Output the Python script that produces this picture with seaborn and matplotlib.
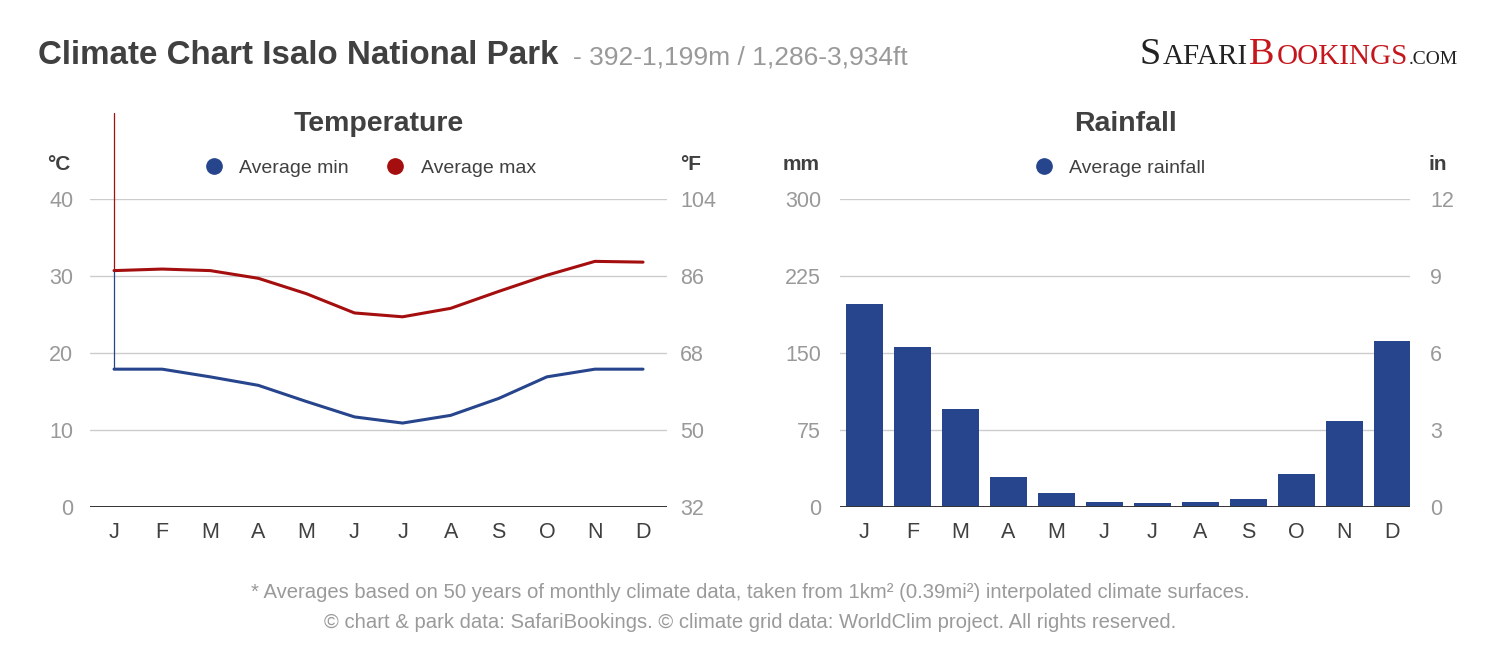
import pandas as pd
import seaborn as sns
import matplotlib.pyplot as plt
import matplotlib.transforms as mtransforms
from matplotlib.lines import Line2D

# Valores
months = ['J', 'F', 'M', 'A', 'M', 'J', 'J', 'A', 'S', 'O', 'N', 'D']
temp_min = [17.9, 17.9, 16.9, 15.8, 13.7, 11.7, 10.9, 11.9, 14.1, 16.9, 17.9, 17.9]
temp_max = [30.7, 30.9, 30.7, 29.7, 27.7, 25.2, 24.7, 25.8, 28.0, 30.1, 31.9, 31.8]
rain_mm = [198, 156, 95, 29, 14, 5, 4, 5, 8, 32, 84, 162]
c_ticks = [0, 10, 20, 30, 40]
f_ticks = [32, 50, 68, 86, 104]
mm_ticks = [0, 75, 150, 225, 300]
in_ticks = [0, 3, 6, 9, 12]

blue = '#27458c'
red = '#a50e0e'
dark = '#404040'
grey = '#999999'

sns.set_theme(style='white')
plt.rcParams['font.family'] = ['Liberation Sans', 'DejaVu Sans']

fig = plt.figure(figsize=(15, 6.52), dpi=100)
ax1 = fig.add_axes([0.06, 0.2224, 0.3847, 0.4724])
ax2 = fig.add_axes([0.5603, 0.2224, 0.38, 0.4724])

# Temperatura
df_t = pd.DataFrame({
    'mes': list(range(12)) * 2,
    'temp': temp_min + temp_max,
    'serie': ['Average min'] * 12 + ['Average max'] * 12,
})
sns.lineplot(data=df_t, x='mes', y='temp', hue='serie',
             palette={'Average min': blue, 'Average max': red},
             lw=2.2, ax=ax1, legend=False)

# linea vertical rara del original
ax1.plot([0, 0], [temp_min[0], temp_max[0]], color=blue, lw=0.9)
trans = mtransforms.blended_transform_factory(ax1.transData, ax1.transAxes)
top_frac = temp_max[0] / c_ticks[-1]
ax1.plot([0, 0], [top_frac, 1.28], color=red, lw=0.9, transform=trans, clip_on=False)

# Lluvia
sns.barplot(x=list(range(12)), y=rain_mm, color=blue, saturation=1,
            width=0.77, linewidth=0, ax=ax2)


def style_axes(ax, ticks, right_ticks, xmax, lpad, rpad):
    ax.set_xlim(-0.5, xmax)
    ax.set_ylim(ticks[0], ticks[-1])
    ax.set_yticks(ticks)
    ax.set_yticklabels([str(t) for t in ticks])
    ax.set_xticks(range(12))
    ax.set_xticklabels(months)
    ax.set_xlabel('')
    ax.set_ylabel('')
    ax.yaxis.grid(True, color='#cccccc', lw=1)
    ax.set_axisbelow(True)
    ax.axhline(ticks[0], color='#333333', lw=1.4, zorder=5)
    for s in ax.spines.values():
        s.set_visible(False)
    ax.tick_params(axis='y', length=0, pad=lpad, labelsize=15.5, labelcolor=grey)
    ax.tick_params(axis='x', length=0, pad=11, labelsize=15.5, labelcolor=dark)

    axr = ax.twinx()
    axr.set_ylim(right_ticks[0], right_ticks[-1])
    axr.set_yticks(right_ticks)
    axr.set_yticklabels([str(t) for t in right_ticks])
    axr.grid(False)
    for s in axr.spines.values():
        s.set_visible(False)
    axr.tick_params(axis='y', length=0, pad=rpad, labelsize=15.5, labelcolor=grey)
    return axr


style_axes(ax1, c_ticks, f_ticks, 11.5, 12, 9.5)
style_axes(ax2, mm_ticks, in_ticks, 11.38, 14, 14)

# Leyendas
h_t = [Line2D([], [], ls='', marker='o', ms=11, color=blue),
       Line2D([], [], ls='', marker='o', ms=11, color=red)]
ax1.legend(h_t, ['Average min', 'Average max'], loc='center', bbox_to_anchor=(0.485, 1.10),
           ncol=2, frameon=False, fontsize=14, handlelength=1.0, handletextpad=0.8,
           columnspacing=1.9, labelcolor=dark)
h_r = [Line2D([], [], ls='', marker='o', ms=11, color=blue)]
ax2.legend(h_r, ['Average rainfall'], loc='center', bbox_to_anchor=(0.49, 1.10),
           frameon=False, fontsize=14, handlelength=1.0, handletextpad=0.8, labelcolor=dark)

# Titulos de los paneles
ax1.set_title('Temperature', fontsize=20.5, fontweight='bold', color=dark, pad=49)
ax2.set_title('Rainfall', fontsize=20.5, fontweight='bold', color=dark, pad=49)

# Unidades
W, H = 1500, 652
for x, s in [(47, '°C'), (680, '°F'), (783, 'mm'), (1428, 'in')]:
    fig.text(x / W, 1 - 165 / H, s, fontsize=15, fontweight='bold', color=dark, va='center')

# Titulo principal
fig.text(38 / W, 1 - 64 / H, 'Climate Chart Isalo National Park', fontsize=23.9,
         fontweight='bold', color=dark, va='baseline')
fig.text(573 / W, 1 - 64 / H, '- 392-1,199m / 1,286-3,934ft', fontsize=19,
         color=grey, va='baseline')

# Logo (solo texto)
renderer = fig.canvas.get_renderer()
x = 1140 / W
for s, size, col in [('S', 27.5, '#222222'), ('AFARI', 21, '#222222'),
                     ('B', 27.5, '#c4161c'), ('OOKINGS', 21, '#c4161c'),
                     ('.COM', 14, '#222222')]:
    t = fig.text(x, 1 - 64 / H, s, fontsize=size, color=col,
                 family='Liberation Serif', va='baseline')
    x = t.get_window_extent(renderer).x1 / fig.bbox.width + 0.001

# Pie
fig.text(0.5, 1 - 592 / H,
         '* Averages based on 50 years of monthly climate data, taken from 1km² (0.39mi²) interpolated climate surfaces.',
         ha='center', va='center', fontsize=14.6, color='#9a9a9a')
fig.text(0.5, 1 - 622 / H,
         '© chart & park data: SafariBookings. © climate grid data: WorldClim project. All rights reserved.',
         ha='center', va='center', fontsize=14.6, color='#9a9a9a')

fig.savefig('out.png', dpi=100, facecolor='white')
